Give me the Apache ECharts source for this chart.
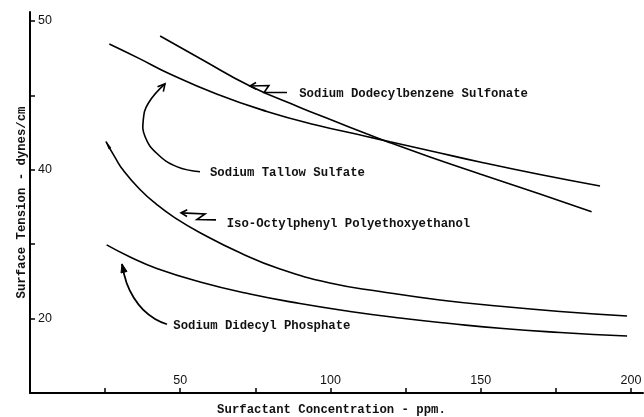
<!DOCTYPE html>
<html><head><meta charset="utf-8">
<script src="https://cdn.jsdelivr.net/npm/echarts@6/dist/echarts.min.js"></script>
<style>html,body{margin:0;padding:0;background:#fff}#c{width:644px;height:417px}</style>
</head><body><div id="c"></div>
<script>
// ---- data (surfactant concentration ppm, surface tension dynes/cm) ----
const dodecylbenzeneX = [43.3, 56.6, 73.2, 89.85, 100.8, 112.0, 119.1, 133.1, 149.75, 169.7, 186.9];
const dodecylbenzeneY = [48.99, 47.48, 45.63, 44.19, 43.31, 42.42, 41.87, 40.86, 39.72, 38.37, 37.18];

const tallowX = [26.4, 36.6, 45.5, 62.1, 78.8, 95.2, 112.0, 119.8, 133.1, 149.75, 169.7, 189.7];
const tallowY = [48.45, 47.45, 46.54, 45.09, 43.92, 43.01, 42.24, 41.88, 41.28, 40.52, 39.68, 38.91];

const isoOctylX = [25.3, 28.3, 31.05, 36.6, 42.2, 48.25, 56.6, 69.9, 83.2, 99.8, 116.5, 136.4, 157.4, 176.4, 198.7];
const isoOctylY = [41.89, 40.83, 39.96, 38.67, 37.66, 36.77, 35.77, 34.42, 33.33, 32.39, 31.82, 31.25, 30.81, 30.48, 30.17];

const didecylX = [25.5, 33.3, 42.2, 56.6, 73.2, 89.85, 106.5, 123.1, 139.8, 157.4, 176.4, 198.7];
const didecylY = [34.95, 34.14, 33.37, 32.46, 31.65, 31.01, 30.48, 30.04, 29.67, 29.33, 29.07, 28.83];

const xTickValues = [25, 50, 75, 100, 125, 150, 175, 200];
const xLabelValues = [50, 100, 150, 200];
const yTickValues = [30, 35, 40, 45, 50];
const yLabelValues = [30, 40, 50];
const yLabelTexts = ['20', '40', '50'];

const labelNames = ['Sodium Dodecylbenzene Sulfonate', 'Sodium Tallow Sulfate', 'Iso-Octylphenyl Polyethoxyethanol', 'Sodium Didecyl Phosphate'];
const labelAnchors = [[89.6, 45.09], [59.9, 39.76], [65.46, 36.36], [47.69, 29.52]];

// annotation arrow paths (data coordinates; first point = arrow tip)
const tallowArrow = [[44.93, 45.77], [39.37, 44.47], [37.70, 43.35], [38.27, 42.23], [42.16, 41.11], [48.82, 40.21], [56.57, 39.87]];
const didecylArrow = [[30.62, 33.67], [32.18, 32.37], [34.61, 31.38], [37.70, 30.58], [41.60, 29.97], [45.59, 29.62]];
const isoZig = [[50.25, 37.10], [58.24, 37.03], [55.57, 36.66], [61.90, 36.63]];
const dodecylZig = [[73.21, 45.63], [79.5, 45.66], [77.9, 45.19], [85.52, 45.19]];

const pair = (xs, ys) => xs.map((v, i) => [v, ys[i]]);
const monoFont = '"Liberation Mono", "DejaVu Sans Mono", monospace';

const chart = echarts.init(document.getElementById('c'), null, {renderer: 'canvas'});
const lineSeries = (name, xs, ys) => ({
  name, type: 'line', data: pair(xs, ys), smooth: 0.5, showSymbol: false, symbol: 'none',
  lineStyle: {color: '#000', width: 1.6}, silent: true
});

chart.setOption({
  animation: false,
  backgroundColor: '#fff',
  grid: {left: 30, right: 1, top: 12, bottom: 24, containLabel: false, outerBoundsMode: 'none'},
  xAxis: {
    type: 'value', min: 0, max: 204,
    name: 'Surfactant Concentration - ppm.', nameLocation: 'middle', nameGap: 11, nameMoveOverlap: false,
    nameTextStyle: {fontFamily: monoFont, fontWeight: 'bold', fontSize: 12.3, color: '#111', padding: [0, 10, 0, 0]},
    axisLine: {show: true, onZero: false, lineStyle: {color: '#000', width: 2}},
    axisTick: {show: true, inside: true, length: 5, customValues: xTickValues, lineStyle: {color: '#000', width: 1.5}},
    axisLabel: {show: true, inside: true, margin: 6, customValues: xLabelValues,
      fontFamily: '"Liberation Sans", Arial, sans-serif', fontSize: 12.5, color: '#111'},
    splitLine: {show: false}
  },
  yAxis: {
    type: 'value', min: 25, max: 50.6,
    name: 'Surface Tension - dynes/cm', nameLocation: 'middle', nameGap: 2, nameRotate: 90, nameMoveOverlap: false,
    nameTextStyle: {fontFamily: monoFont, fontWeight: 'bold', fontSize: 12.3, color: '#111'},
    axisLine: {show: true, onZero: false, lineStyle: {color: '#000', width: 2}},
    axisTick: {show: true, inside: true, length: 5, customValues: yTickValues, lineStyle: {color: '#000', width: 1.5}},
    axisLabel: {show: true, inside: true, margin: 8, customValues: yLabelValues,
      formatter: v => { const i = yLabelValues.indexOf(v); return i >= 0 ? yLabelTexts[i] : ''; },
      fontFamily: '"Liberation Sans", Arial, sans-serif', fontSize: 12.5, color: '#111'},
    splitLine: {show: false}
  },
  series: [
    lineSeries('Sodium Dodecylbenzene Sulfonate', dodecylbenzeneX, dodecylbenzeneY),
    lineSeries('Sodium Tallow Sulfate', tallowX, tallowY),
    lineSeries('Iso-Octylphenyl Polyethoxyethanol', isoOctylX, isoOctylY),
    lineSeries('Sodium Didecyl Phosphate', didecylX, didecylY)
  ]
});

// ---- annotations positioned through the chart's own scales ----
const toPx = p => chart.convertToPixel({gridIndex: 0}, p);
function headPts(tip, from, len, half) {
  const a = Math.atan2(tip[1] - from[1], tip[0] - from[0]);
  return [
    [tip[0] - len * Math.cos(a - half), tip[1] - len * Math.sin(a - half)],
    tip,
    [tip[0] - len * Math.cos(a + half), tip[1] - len * Math.sin(a + half)]
  ];
}
const stroke = {stroke: '#000', lineWidth: 1.6, fill: null};
const g = [];
labelNames.forEach((t, i) => {
  const p = toPx(labelAnchors[i]);
  g.push({type: 'text', x: p[0], y: p[1], silent: true,
    style: {text: t, fontFamily: monoFont, fontWeight: 'bold', fontSize: 12.3, fill: '#111', align: 'left', verticalAlign: 'middle'}});
});
// curved arrow: Tallow (open head)
{
  const pts = tallowArrow.map(toPx);
  g.push({type: 'polyline', shape: {points: pts, smooth: 0.45}, style: stroke, silent: true});
  g.push({type: 'polyline', shape: {points: headPts(pts[0], pts[1], 8, 0.5)}, style: stroke, silent: true});
}
// curved arrow: Didecyl (filled head)
{
  const pts = didecylArrow.map(toPx);
  g.push({type: 'polyline', shape: {points: pts, smooth: 0.45}, style: {stroke: '#000', lineWidth: 1.8, fill: null}, silent: true});
  g.push({type: 'polygon', shape: {points: headPts(pts[0], pts[1], 9, 0.35)}, style: {fill: '#000', stroke: '#000', lineWidth: 1}, silent: true});
}
// zigzag arrows (open head)
[isoZig, dodecylZig].forEach(z => {
  const pts = z.map(toPx);
  g.push({type: 'polyline', shape: {points: pts}, style: stroke, silent: true});
  g.push({type: 'polyline', shape: {points: headPts(pts[0], pts[1], 7, 0.5)}, style: stroke, silent: true});
});
// pointed start of the Iso-Octylphenyl curve
{
  const a = toPx([isoOctylX[0], isoOctylY[0]]), b = toPx([isoOctylX[1], isoOctylY[1]]);
  g.push({type: 'polygon', shape: {points: headPts(a, b, 8, 0.15)}, style: {fill: '#000', stroke: '#000', lineWidth: 0.6}, silent: true});
}
chart.setOption({graphic: g});
</script>
</body></html>
